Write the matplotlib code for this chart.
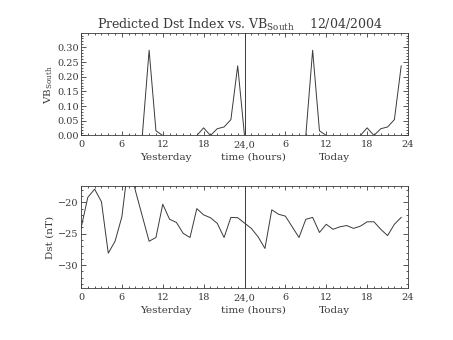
import matplotlib
matplotlib.use('Agg')
import matplotlib.pyplot as plt
from matplotlib.ticker import MultipleLocator

plt.rcParams['font.family'] = ['DejaVu Serif']
plt.rcParams['mathtext.fontset'] = 'dejavuserif'

# hours since start of yesterday
hours = list(range(48))

# VB south, yesterday and today
vb_yesterday = [0, 0, 0, 0, 0, 0, 0, 0, 0, 0, 0.29, 0.016,
                0, 0, 0, 0, 0, 0, 0.026, 0, 0.023, 0.029, 0.054, 0.237]
vb_today = [0, 0, 0, 0, 0, 0, 0, 0, 0, 0, 0.29, 0.016,
            0, 0, 0, 0, 0, 0, 0.026, 0, 0.023, 0.029, 0.054, 0.237]

# predicted Dst (nT)
dst_yesterday = [-24.15, -19.2, -17.9, -19.9, -28.1, -26.2, -22.3, -13.4,
                 -18.2, -22.2, -26.2, -25.6, -20.3, -22.7, -23.2, -24.95,
                 -25.6, -21.0, -22.0, -22.45, -23.35, -25.6, -22.4, -22.45]
dst_today = [-23.3, -24.15, -25.5, -27.35, -21.2, -21.9, -22.2, -23.9,
             -25.6, -22.7, -22.4, -24.8, -23.5, -24.3, -23.9, -23.7,
             -24.15, -23.8, -23.1, -23.1, -24.3, -25.3, -23.5, -22.4]

xticks = [0, 6, 12, 18, 24, 30, 36, 42, 48]
xticklabels = ['0', '6', '12', '18', '24,0', '6', '12', '18', '24']

fg = '#3a3a3a'
fig = plt.figure(figsize=(4.53, 3.40), dpi=100)
ax1 = fig.add_axes([0.1788, 0.6015, 0.7219, 0.300])
ax2 = fig.add_axes([0.1788, 0.1520, 0.7219, 0.3009])


def style_axis(ax):
    ax.set_xlim(0, 48)
    ax.set_xticks(xticks)
    ax.set_xticklabels(xticklabels)
    ax.xaxis.set_minor_locator(MultipleLocator(1))
    ax.tick_params(which='both', direction='in', top=True, right=True,
                   colors=fg, labelsize=7, width=0.6)
    ax.tick_params(axis='x', which='major', length=3, pad=3.5)
    ax.tick_params(axis='y', which='major', length=3.5, pad=1.5)
    ax.tick_params(which='minor', length=1.6)
    for s in ax.spines.values():
        s.set_color(fg)
        s.set_linewidth(0.6)
    ax.axvline(24, color=fg, lw=0.7)
    ax.text(0.26, -0.215, 'Yesterday', transform=ax.transAxes, ha='center',
            va='center', fontsize=7.5, color=fg)
    ax.text(0.526, -0.215, 'time (hours)', transform=ax.transAxes,
            ha='center', va='center', fontsize=7.5, color=fg)
    ax.text(0.776, -0.215, 'Today', transform=ax.transAxes, ha='center',
            va='center', fontsize=7.5, color=fg)


ax1.plot(hours, vb_yesterday + vb_today, color=fg, lw=0.7)
ax1.set_ylim(0, 0.347)
ax1.set_yticks([0, 0.05, 0.10, 0.15, 0.20, 0.25, 0.30])
ax1.set_yticklabels(['0.00', '0.05', '0.10', '0.15', '0.20', '0.25', '0.30'])
ax1.yaxis.set_minor_locator(MultipleLocator(0.01))
ax1.set_ylabel(r'VB$_{\mathrm{South}}$', fontsize=7.5, color=fg, labelpad=2)
style_axis(ax1)

ax2.plot(hours, dst_yesterday + dst_today, color=fg, lw=0.7)
ax2.set_ylim(-33.7, -17.4)
ax2.set_yticks([-30, -25, -20])
ax2.set_yticklabels(['\u221230', '\u221225', '\u221220'])
ax2.yaxis.set_minor_locator(MultipleLocator(1))
ax2.set_ylabel('Dst (nT)', fontsize=7.5, color=fg, labelpad=3)
style_axis(ax2)

fig.text(0.53, 0.915, r'Predicted Dst Index vs. VB$_{\mathrm{South}}$    12/04/2004',
         ha='center', va='baseline', fontsize=9, color=fg)

fig.savefig('out.png', dpi=100)
